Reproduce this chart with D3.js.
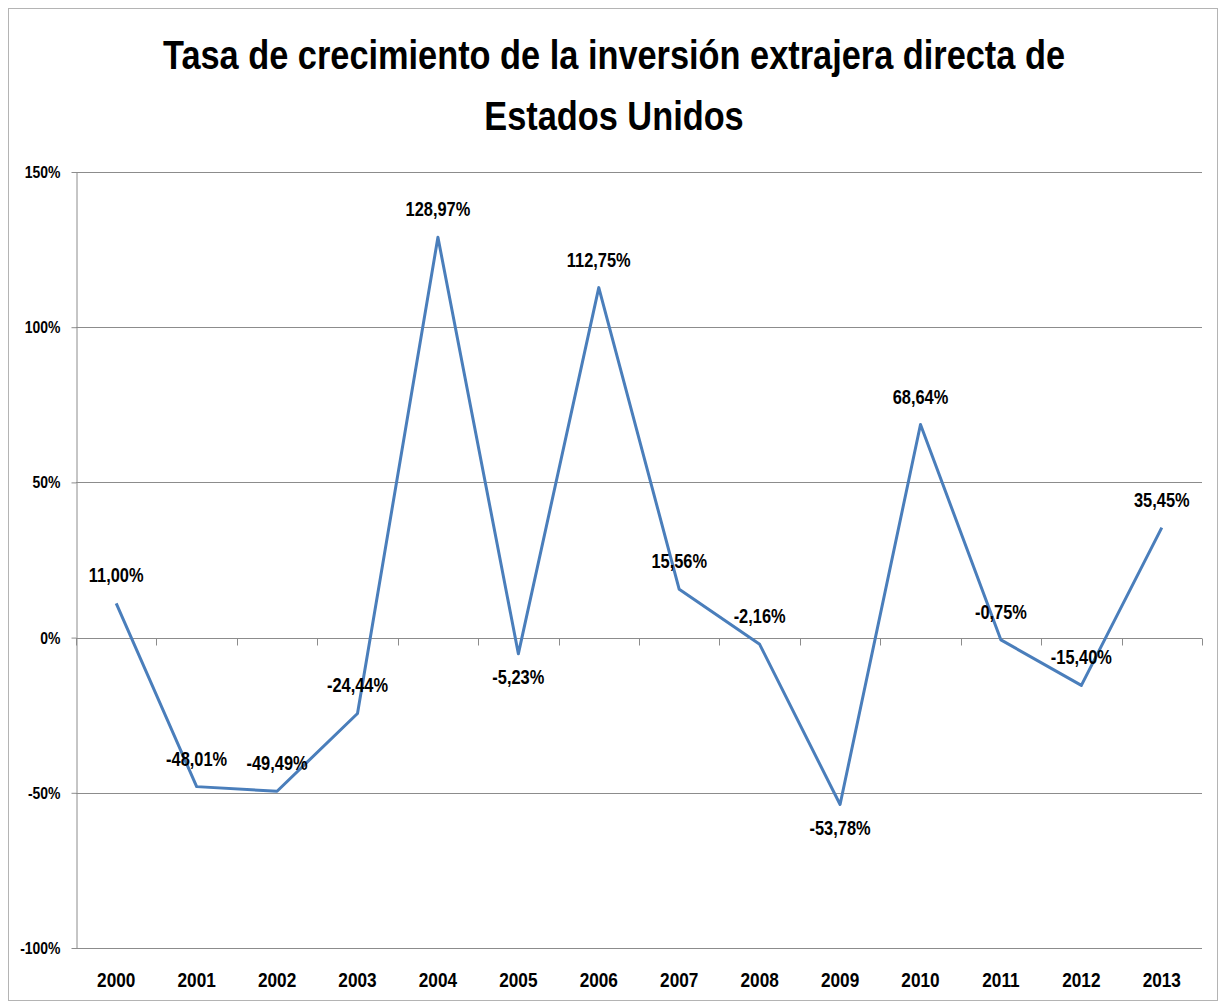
<!DOCTYPE html>
<html>
<head>
    <meta charset="utf-8">
    <style>
        body {
            margin: 0;
            background: #fff;
        }

        svg {
            font-family: 'Liberation Sans', Arial, sans-serif;
            font-weight: bold;
        }

        .title {
            font-size: 40px;
            fill: #000;
        }

        .y .tick text {
            font-size: 17px;
            fill: #000;
        }

        .x .tick text {
            font-size: 21px;
            fill: #000;
        }

        .grid line {
            stroke: #8c8c8c;
        }

        .domain {
            stroke: #8c8c8c;
        }

        .tick line {
            stroke: #8c8c8c;
        }

        .data-label {
            font-size: 20px;
            fill: #000;
        }
    </style>
</head>

<body>
    <svg width="1227" height="1004"></svg>
</body>

<script src="https://d3js.org/d3.v7.min.js"></script>

<script>
    // data
    let years = ["2000", "2001", "2002", "2003", "2004", "2005", "2006", "2007", "2008", "2009", "2010", "2011", "2012", "2013"];
    let growth = [11.00, -48.01, -49.49, -24.44, 128.97, -5.23, 112.75, 15.56, -2.16, -53.78, 68.64, -0.75, -15.40, 35.45];
    let yTicks = [-100, -50, 0, 50, 100, 150];
    // years whose label sits under the point
    let labelsBelow = ["2005", "2009"];

    let titleLines = ["Tasa de crecimiento de la inversión extrajera directa de", "Estados Unidos"];

    let svg = d3.select("svg");

    let margin = { top: 172, right: 25, bottom: 56, left: 76 };
    let width = 1227;
    let height = 1004;

    let locale = d3.formatLocale({ decimal: ",", thousands: ".", grouping: [3], currency: ["", ""], minus: "-" });
    let fmtTick = d => locale.format("d")(d) + "%";
    let fmtLabel = d => locale.format(".2f")(d) + "%";

    // no narrow font installed, so squeeze the glyphs like Arial Narrow
    function condense(sel, k) {
        sel.each(function () {
            let len = this.getComputedTextLength();
            d3.select(this)
                .attr("textLength", len * k)
                .attr("lengthAdjust", "spacingAndGlyphs")
        })
    }

    // outer frame
    svg.append("rect")
        .attr("x", 8.5)
        .attr("y", 8.5)
        .attr("width", 1209)
        .attr("height", 992)
        .style("fill", "none")
        .style("stroke", "#b4b4b4")

    // title
    let title = svg.append("g")
    titleLines.forEach(function (t, i) {
        title.append("text")
            .attr("class", "title")
            .attr("text-anchor", "middle")
            .attr("x", 614)
            .attr("y", 69 + i * 61)
            .text(t)
    })

    let x = d3.scaleBand()
        .domain(years)
        .range([margin.left, width - margin.right])

    let y = d3.scaleLinear()
        .domain([-100, 150])
        .range([height - margin.bottom, margin.top])

    // horizontal grid
    svg.append("g")
        .attr("class", "grid")
        .selectAll("line")
        .data(yTicks)
        .join("line")
        .attr("x1", margin.left)
        .attr("x2", width - margin.right)
        .attr("y1", d => Math.round(y(d)) + 0.5)
        .attr("y2", d => Math.round(y(d)) + 0.5)

    let yAxis = svg.append("g")
        .attr("class", "y axis")
        .attr("transform", `translate(${margin.left + 0.5},0)`)
        .call(d3.axisLeft(y).tickValues(yTicks).tickSize(5).tickSizeOuter(0).tickPadding(11).tickFormat(fmtTick))

    // x axis sits on the zero line, ticks at band edges
    let edges = years.map(d => x(d)).concat([x.range()[1]])
    let zeroY = Math.round(y(0)) + 0.5
    svg.append("g")
        .attr("class", "x-ticks")
        .selectAll("line")
        .data(edges)
        .join("line")
        .attr("x1", d => Math.round(d) + 0.5)
        .attr("x2", d => Math.round(d) + 0.5)
        .attr("y1", zeroY)
        .attr("y2", zeroY + 7)
        .style("stroke", "#8c8c8c")

    // year labels at the bottom
    let xAxis = svg.append("g")
        .attr("class", "x axis")
        .attr("transform", `translate(0,${height - margin.bottom})`)
        .call(d3.axisBottom(x).tickSize(0).tickPadding(24))

    xAxis.select(".domain").remove()

    let line = d3.line()
        .x((d, i) => x(years[i]) + x.bandwidth() / 2)
        .y(d => y(d))

    svg.append("path")
        .datum(growth)
        .attr("d", line)
        .style("fill", "none")
        .style("stroke", "#4a7ebb")
        .style("stroke-width", 3)
        .style("stroke-linejoin", "round")

    let labels = svg.append("g")
        .selectAll("text")
        .data(growth)
        .join("text")
        .attr("class", "data-label")
        .attr("text-anchor", "middle")
        .attr("x", (d, i) => x(years[i]) + x.bandwidth() / 2)
        .attr("y", (d, i) => labelsBelow.includes(years[i]) ? y(d) + 30 : y(d) - 21)
        .text(d => fmtLabel(d))

    // title squeezed to the original width (~902px for the first line)
    let titleK = 902 / title.select("text").node().getComputedTextLength()
    condense(title.selectAll("text"), titleK)
    condense(yAxis.selectAll(".tick text"), 0.82)
    condense(xAxis.selectAll(".tick text"), 0.82)
    condense(labels, 0.82)

</script>
</html>
